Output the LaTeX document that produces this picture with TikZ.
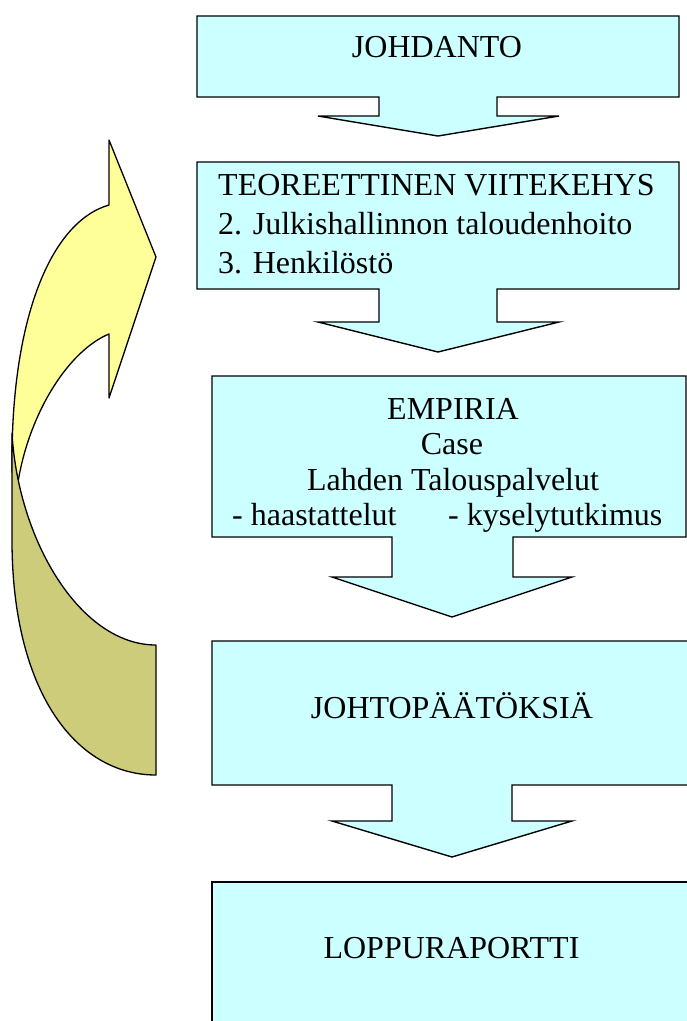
\documentclass[tikz,border=0pt]{standalone}
\usepackage{fontspec}
\setmainfont{Liberation Serif}
\newfontfamily\timesfont{Liberation Serif}
\definecolor{boxcyan}{HTML}{CCFFFF}
\definecolor{arrowyellow}{HTML}{FFFF99}
\definecolor{arrowolive}{HTML}{CCCC7A}
\begin{document}
\begin{tikzpicture}[x=1pt,y=-1pt,
  callout/.style={draw=black,fill=boxcyan,line width=1.4pt,line join=miter},
  loopband/.style={draw=black,line width=1.3pt,line join=round},
  lbl/.style={inner sep=0pt,font=\timesfont\fontsize{32}{38}\selectfont}]
\useasboundingbox (0,0) rectangle (687,1021);
\clip (0,0) rectangle (687,1021);

% curved return arrow: front (yellow) part
\path[loopband,fill=arrowyellow]
  (109,140) -- (156,257) -- (109,398) -- (109,334)
  .. controls (70,350) and (30,410) .. (18,482)
  -- (12,472) -- (12,460)
  .. controls (12,320) and (50,222) .. (109,205)
  -- cycle;
% back (olive) part
\path[loopband,fill=arrowolive]
  (12,433) -- (12,540)
  .. controls (12,690) and (75,775) .. (156,775)
  -- (156,645)
  .. controls (80,645) and (18,540) .. (12,433)
  -- cycle;

% callout boxes
\path[callout] (197,16) -- (679,16) -- (679,97) -- (497,97) -- (497,116) -- (559,116)
  -- (438,136) -- (318,116) -- (379,116) -- (379,97) -- (197,97) -- cycle;
\path[callout] (197,162) -- (679,162) -- (679,289) -- (497,289) -- (497,322) -- (559,322)
  -- (438,352) -- (318,322) -- (379,322) -- (379,289) -- (197,289) -- cycle;
\path[callout] (212,376) -- (686,376) -- (686,537) -- (513,537) -- (513,577) -- (572,577)
  -- (452,617) -- (332,577) -- (392,577) -- (392,537) -- (212,537) -- cycle;
\path[callout] (212,641) -- (705,641) -- (705,785) -- (512,785) -- (512,821) -- (572,821)
  -- (452,857) -- (332,821) -- (392,821) -- (392,785) -- (212,785) -- cycle;
\path[callout] (212,882) rectangle (705,1040);

% texts
\node[lbl,anchor=base] (t1) at (437,57) {JOHDANTO};
\node[lbl,anchor=base west] (t2a) at (218,195) {TEOREETTINEN VIITEKEHYS};
\node[lbl,anchor=base west] (t2b) at (218,234) {2. Julkishallinnon taloudenhoito};
\node[lbl,anchor=base west] (t2c) at (218,273) {3. Henkilöstö};
\node[lbl,anchor=base] (t3a) at (453,419) {EMPIRIA};
\node[lbl,anchor=base] (t3b) at (452,454.5) {Case};
\node[lbl,anchor=base] (t3c) at (453,490) {Lahden Talouspalvelut};
\node[lbl,anchor=base west] (t3d) at (232,525.5) {- haastattelut};
\node[lbl,anchor=base west] (t3e) at (448,525.5) {- kyselytutkimus};
\node[lbl,anchor=base] (t4) at (452,718) {JOHTOPÄÄTÖKSIÄ};
\node[lbl,anchor=base] (t5) at (451.5,958) {LOPPURAPORTTI};
\end{tikzpicture}
\end{document}
